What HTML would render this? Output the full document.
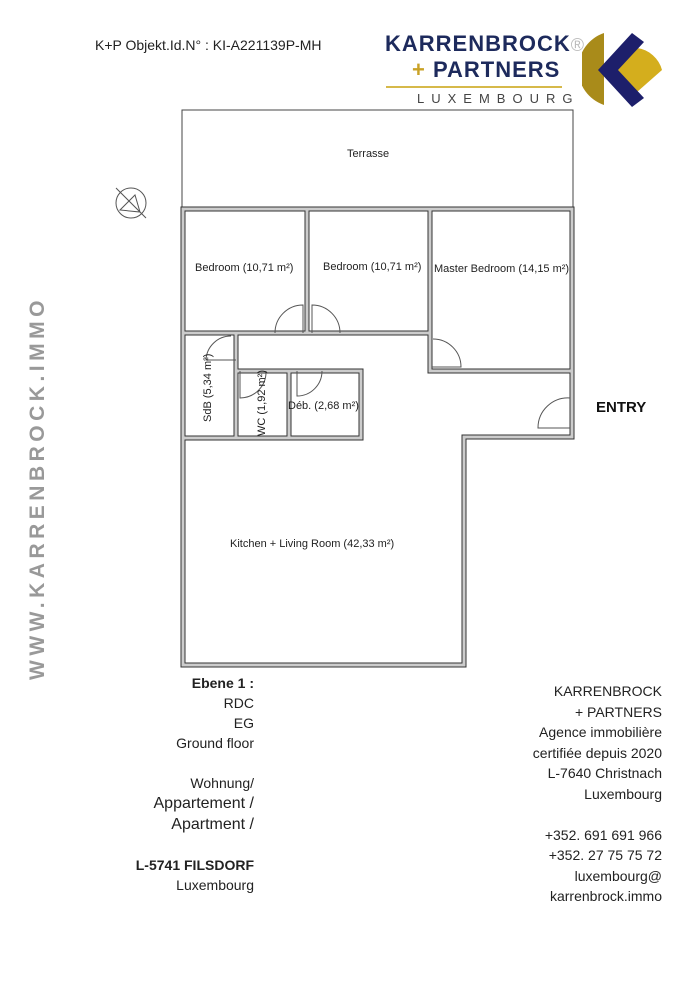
<!DOCTYPE html>
<html><head><meta charset="utf-8"><style>
body{margin:0;width:700px;height:990px;background:#fff;font-family:"Liberation Sans",sans-serif;position:relative;overflow:hidden}
.t{position:absolute;color:#222;white-space:nowrap}
</style></head><body>
<div class="t" style="left:95px;top:37px;font-size:14px;">K+P Objekt.Id.N° : KI-A221139P-MH</div>
<div class="t" style="left:385px;top:31px;font-size:22px;font-weight:bold;color:#1d2a5c;letter-spacing:1px">KARRENBROCK<span style="color:#bbb;font-weight:normal;font-size:18px">®</span></div>
<div class="t" style="left:412px;top:57px;font-size:22px;font-weight:bold;color:#1d2a5c;letter-spacing:1px"><span style="color:#c9a227">+</span> PARTNERS</div>
<div style="position:absolute;left:386px;top:86px;width:176px;height:2px;background:#d6b94a"></div>
<div class="t" style="left:417px;top:91px;font-size:13px;color:#444;letter-spacing:7px">LUXEMBOURG</div>
<svg style="position:absolute;left:582px;top:30px" width="90" height="80" viewBox="0 0 90 80">
<path d="M22 3 A38 38 0 0 0 22 75 Z" fill="#a98b1a"/>
<path d="M55 18 L30 40 L55 62 L80 40 A30 30 0 0 0 55 18Z" fill="#d4ae1d"/>
<path d="M50 3 L62 12 L36 40 L62 68 L50 77 L16 40Z" fill="#1d1f6b"/>
</svg>
<div class="t" style="left:26px;top:680px;transform:rotate(-90deg);transform-origin:0 0;font-size:21px;font-weight:bold;color:#999;letter-spacing:4.5px">WWW.KARRENBROCK.IMMO</div>
<svg style="position:absolute;left:0;top:0" width="700" height="700">
<g fill="none" stroke="#444" stroke-width="1">
<rect x="182" y="110" width="391" height="98"/>
</g>
<g stroke="#333" stroke-width="5" fill="none" stroke-linecap="square">
<path d="M183 209 H572 V437 H464 V665 H183 Z M307 209 V333 M430 209 V371 H572 M183 333 H430 M236 333 V438 M183 438 H361 V371 H236 M289 371 V438"/>
</g>
<g stroke="#ccc" stroke-width="3" fill="none" stroke-linecap="square">
<path d="M183 209 H572 V437 H464 V665 H183 Z M307 209 V333 M430 209 V371 H572 M183 333 H430 M236 333 V438 M183 438 H361 V371 H236 M289 371 V438"/>
</g>
<g stroke="#555" stroke-width="1" fill="none">
<path d="M303 333 V305 A28 28 0 0 0 275 333"/>
<path d="M312 333 V305 A28 28 0 0 1 340 333"/>
<path d="M236 360 H206 A25 25 0 0 1 231 336"/>
<path d="M240 371 V398 A26 26 0 0 0 266 371"/>
<path d="M297 371 V396 A25 25 0 0 0 322 371"/>
<path d="M432 367 H461 A28 28 0 0 0 433 339"/>
<path d="M570 428 H538 A30 30 0 0 1 570 398"/>
<circle cx="131" cy="203" r="15"/>
<path d="M116 188 L146 218 M120 210 L135 195 L140 212Z"/>
</g>
<g font-size="11" fill="#222" font-family="Liberation Sans,sans-serif">
<text x="347" y="157">Terrasse</text>
<text x="195" y="271">Bedroom (10,71 m²)</text>
<text x="323" y="270">Bedroom (10,71 m²)</text>
<text x="434" y="272">Master Bedroom (14,15 m²)</text>
<text x="288" y="409">Déb. (2,68 m²)</text>
<text x="230" y="547">Kitchen + Living Room (42,33 m²)</text>
<text transform="translate(211,422) rotate(-90)">SdB (5,34 m²)</text>
<text transform="translate(265,436) rotate(-90)">WC (1,92 m²)</text>
</g>
<text x="596" y="412" font-size="15" font-weight="bold" fill="#111" font-family="Liberation Sans,sans-serif">ENTRY</text>
</svg>
<div class="t" style="right:446px;top:673px;font-size:14px;text-align:right;line-height:20px">
<b>Ebene 1 :</b><br>RDC<br>EG<br>Ground floor<br><br>Wohnung/<br><span style="font-size:16px">Appartement /</span><br><span style="font-size:16px">Apartment /</span><br><br><b>L-5741 FILSDORF</b><br>Luxembourg</div>
<div class="t" style="right:38px;top:681px;font-size:14px;text-align:right;line-height:20.5px">KARRENBROCK<br>+ PARTNERS<br>Agence immobilière<br>certifiée depuis 2020<br>L-7640 Christnach<br>Luxembourg<br><br>+352. 691 691 966<br>+352. 27 75 75 72<br>luxembourg@<br>karrenbrock.immo</div>
</body></html>
